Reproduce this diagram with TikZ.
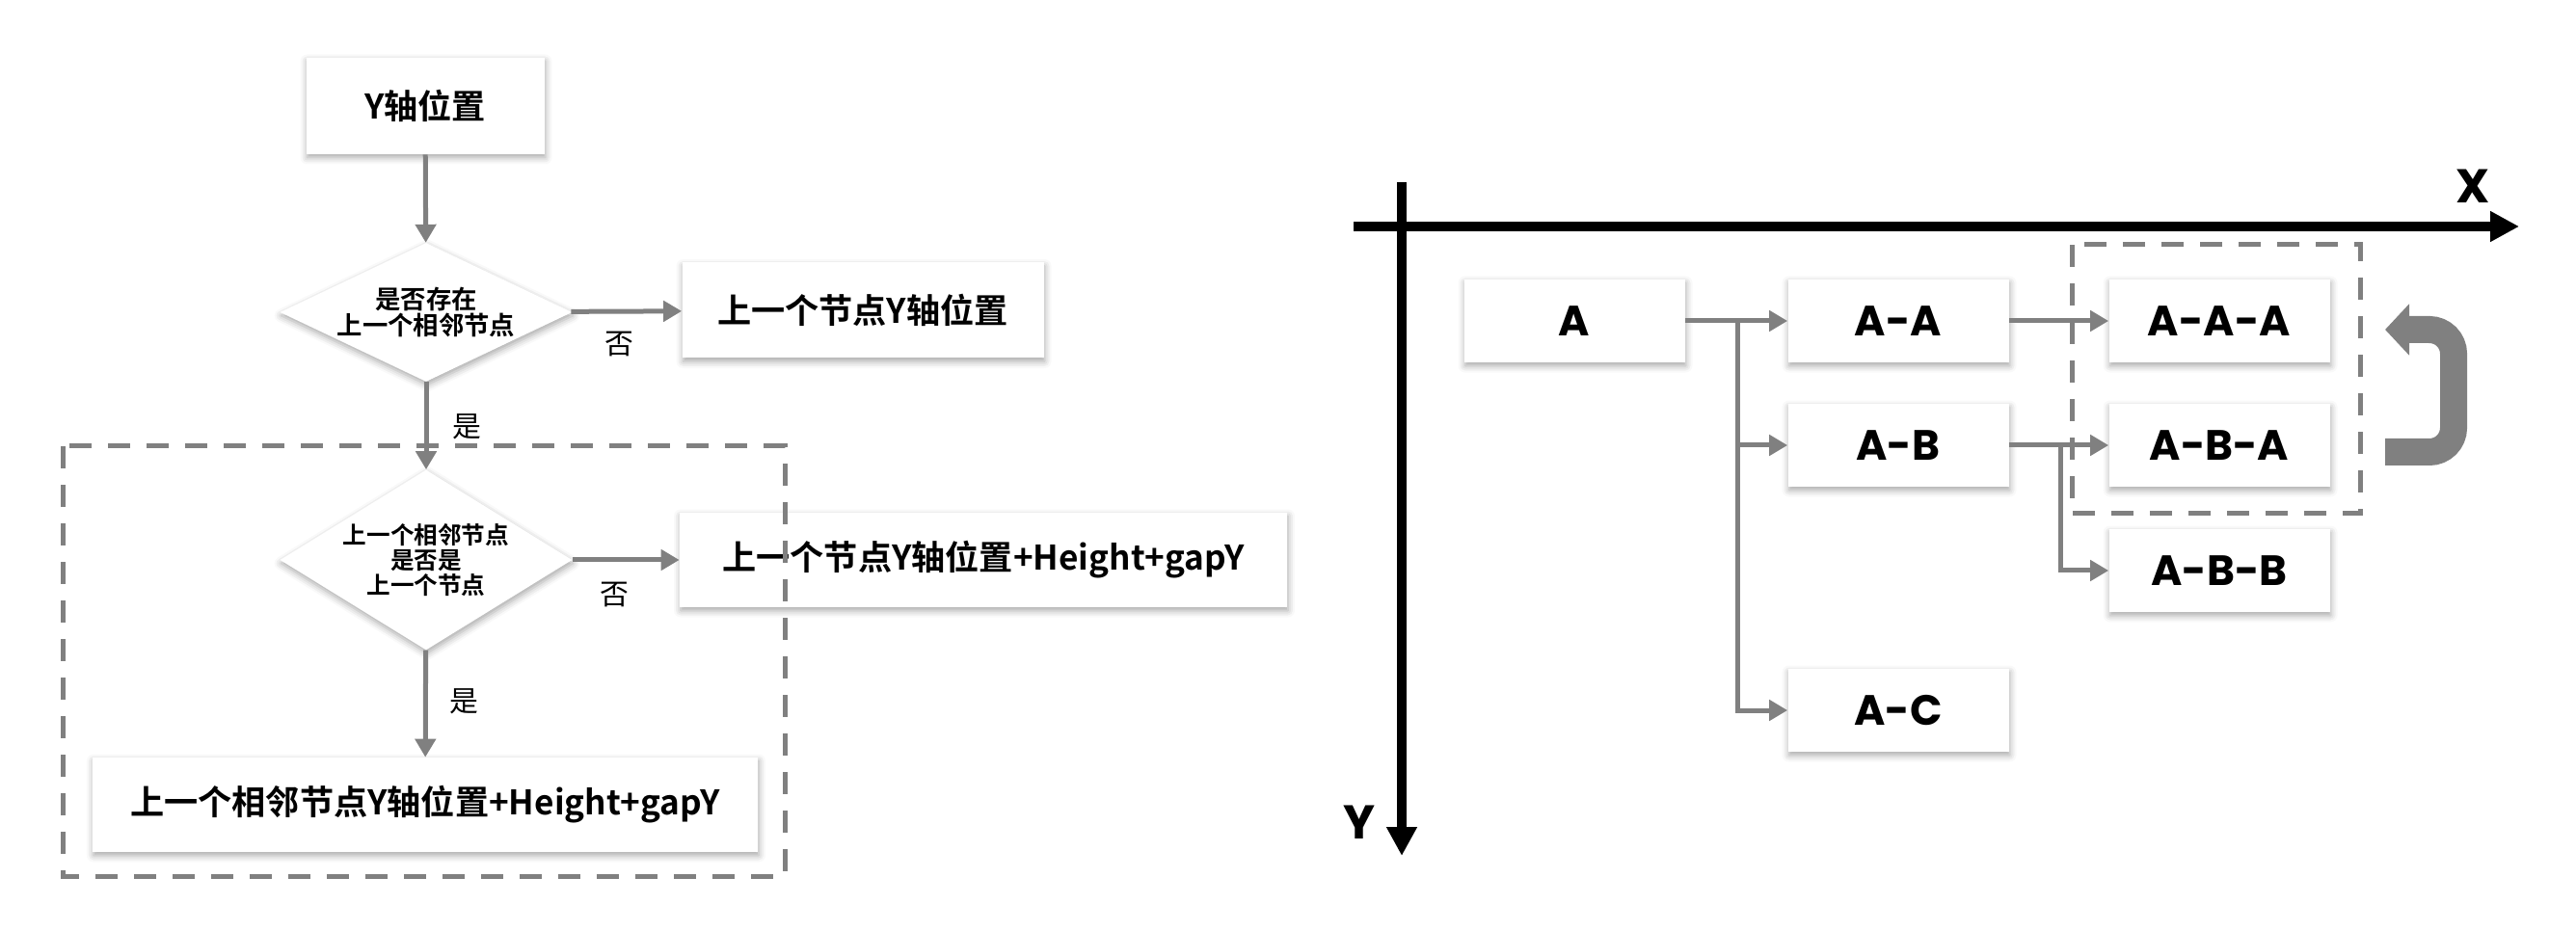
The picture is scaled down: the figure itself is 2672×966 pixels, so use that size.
\documentclass[tikz,border=0pt]{standalone}
\usepackage{fontspec}
\setmainfont{Poppins}
\newfontfamily\cjkfont{Noto Sans CJK SC}[BoldFont={Noto Sans CJK SC Bold}]
\usepackage{tikz}
\usetikzlibrary{shapes.geometric, arrows.meta, shadows.blur}
\definecolor{linegray}{HTML}{808080}

\begin{document}
\begin{tikzpicture}[x=0.2mm, y=-0.2mm,
    softshadow/.style={blur shadow={shadow xshift=0.2mm, shadow yshift=-0.7mm, shadow blur radius=1.4mm, shadow opacity=35}},
    flowbox/.style={rectangle, fill=white, softshadow, inner sep=0pt, font=\cjkfont\bfseries\fontsize{20pt}{24pt}\selectfont},
    decision/.style={diamond, fill=white, softshadow, inner sep=0pt, align=center, minimum width=60.6mm, font=\cjkfont\bfseries\fontsize{15pt}{15.5pt}\selectfont},
    treebox/.style={rectangle, fill=white, softshadow, minimum width=45.8mm, minimum height=17.2mm, inner sep=0pt, font=\bfseries\fontsize{25pt}{30pt}\selectfont},
    answer/.style={font=\cjkfont\fontsize{17pt}{20pt}\selectfont},
    flowarrow/.style={draw=linegray, line width=1mm, -{Triangle[length=3.8mm, width=4.2mm]}},
    axisline/.style={line width=2mm, -{Triangle[length=6mm, width=6mm]}},
    groupframe/.style={draw=linegray, line width=1mm, dash pattern=on 4.6mm off 3.4mm}
]
\useasboundingbox (0,0) rectangle (2672,966);

% Flow chart (left)
\node[flowbox, minimum width=49.4mm, minimum height=20mm] (ypos) at (441,110) {Y轴位置};
\node[decision, aspect=2.1, minimum height=28.8mm] (hasprev) at (442,324) {是否存在\\上一个相邻节点};
\node[flowbox, minimum width=75mm, minimum height=19.8mm] (prevy) at (895,322) {上一个节点Y轴位置};
\node[decision, aspect=1.62, minimum height=37.4mm, font=\cjkfont\bfseries\fontsize{14pt}{15pt}\selectfont] (isprev) at (442,581) {上一个相邻节点\\是否是\\上一个节点};
\node[flowbox, minimum width=126mm, minimum height=19.6mm] (prevsum) at (1020,581) {上一个节点Y轴位置+Height+gapY};
\node[flowbox, minimum width=138mm, minimum height=19.6mm] (adjsum) at (441,835) {上一个相邻节点Y轴位置+Height+gapY};

\node[answer] (no1) at (642,357) {否};
\node[answer] (yes1) at (484,443) {是};
\node[answer] (no2) at (637,617) {否};
\node[answer] (yes2) at (481,728) {是};

\draw[flowarrow] (ypos) -- (hasprev);
\draw[flowarrow] (hasprev) -- (prevy);
\draw[flowarrow] (hasprev) -- (isprev);
\draw[flowarrow] (isprev) -- (prevsum);
\draw[flowarrow] (isprev) -- (adjsum);

\draw[groupframe] (65,463) rectangle (814,909);

% Axes (right)
\coordinate (xstart) at (1404,235);
\coordinate (xend) at (2613,235);
\coordinate (ystart) at (1454,189);
\coordinate (yend) at (1454,888);
\draw[axisline] (xstart) -- (xend);
\draw[axisline] (ystart) -- (yend);
\node[font=\bfseries\fontsize{28pt}{32pt}\selectfont] (xlab) at (2565,193) {X};
\node[font=\bfseries\fontsize{28pt}{32pt}\selectfont] (ylab) at (1410,853) {Y};

% Tree nodes
\node[treebox] (a) at (1633,333) {A};
\node[treebox] (aa) at (1969,333) {A-A};
\node[treebox] (aaa) at (2302,333) {A-A-A};
\node[treebox] (ab) at (1969,462) {A-B};
\node[treebox] (aba) at (2302,462) {A-B-A};
\node[treebox] (abb) at (2302,592) {A-B-B};
\node[treebox] (ac) at (1969,737) {A-C};

% Tree links
\coordinate (abranch) at (1802,333);
\coordinate (bbranch) at (2137,462);
\draw[flowarrow] (a) -- (aa);
\draw[flowarrow] (abranch) |- (ab);
\draw[flowarrow] (abranch) |- (ac);
\draw[flowarrow] (aa) -- (aaa);
\draw[flowarrow] (ab) -- (aba);
\draw[flowarrow] (bbranch) |- (abb);

\draw[groupframe] (2149,254) rectangle (2448,533);

% Loop back arrow
\coordinate (loopstart) at (2474,469);
\coordinate (loopend) at (2474,342);
\draw[draw=linegray, line width=5.6mm, rounded corners=5mm, -{Triangle[length=5mm, width=10.4mm]}]
    (loopstart) -- (2545,469) -- (2545,342) -- (loopend);

\end{tikzpicture}
\end{document}
